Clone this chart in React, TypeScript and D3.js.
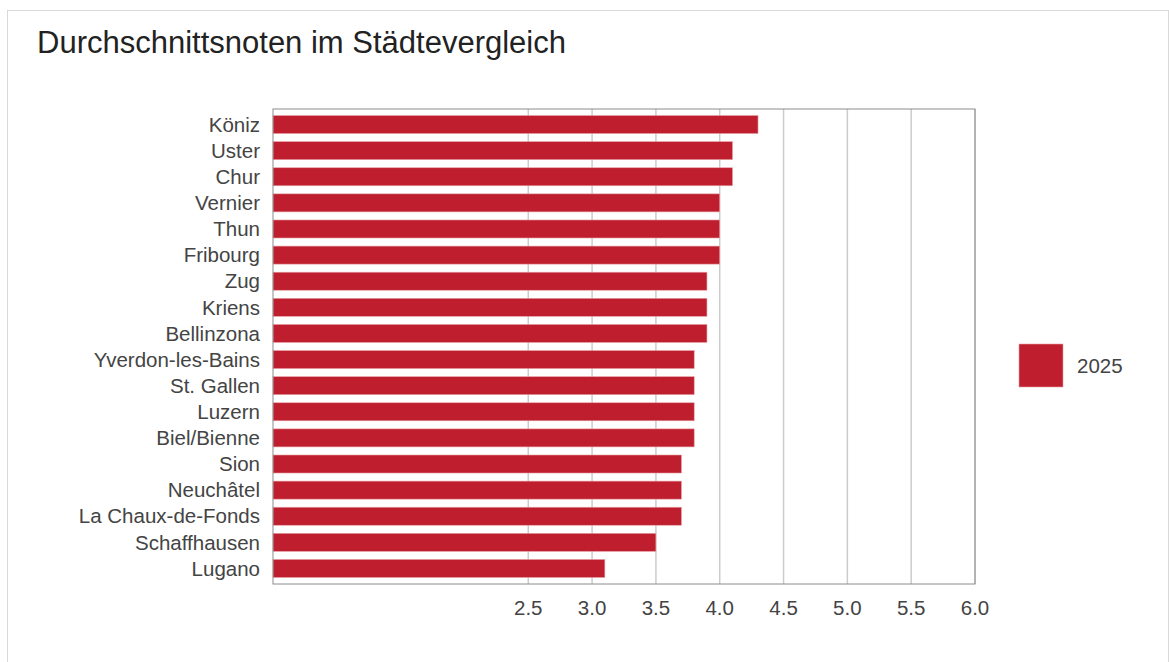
import * as d3 from 'd3'

const cities = ['Köniz', 'Uster', 'Chur', 'Vernier', 'Thun', 'Fribourg', 'Zug', 'Kriens', 'Bellinzona',
    'Yverdon-les-Bains', 'St. Gallen', 'Luzern', 'Biel/Bienne', 'Sion', 'Neuchâtel', 'La Chaux-de-Fonds',
    'Schaffhausen', 'Lugano']
const grades2025 = [4.3, 4.1, 4.1, 4.0, 4.0, 4.0, 3.9, 3.9, 3.9, 3.8, 3.8, 3.8, 3.8, 3.7, 3.7, 3.7, 3.5, 3.1]
const xTicks = [2.5, 3.0, 3.5, 4.0, 4.5, 5.0, 5.5, 6.0]
const xDomain = [0.5, 6]
const seriesName = '2025'

const W = 1169
const H = 662
const plot = { left: 273, right: 975, top: 109, bottom: 584 }
const red = '#be1e2d'
const font = '"Liberation Sans", Arial, sans-serif'

export default function App() {
    const x = d3.scaleLinear().domain(xDomain).range([plot.left, plot.right])
    const y = d3.scaleBand().domain(cities).range([plot.top, plot.bottom]).paddingInner(0.31).paddingOuter(0.25)

    return (
        <svg width={W} height={H} style={{ position: 'absolute', left: 0, top: 0, fontFamily: font }}>
            <rect x={7.5} y={10.5} width={W - 8} height={H} fill='#fff' stroke='#d9d9d9' />
            <text x={37} y={53} fontSize={31} fill='#222'>Durchschnittsnoten im Städtevergleich</text>

            {/* gridlines */}
            {xTicks.map(t => (
                <line key={t} x1={x(t)} x2={x(t)} y1={plot.top} y2={plot.bottom} stroke='#cccccc' strokeWidth={1.5} />
            ))}

            {/* bars */}
            {cities.map((c, i) => (
                <rect key={c} x={x(xDomain[0])} y={y(c)} width={x(grades2025[i]) - x(xDomain[0])}
                    height={y.bandwidth()} fill={red} stroke='#e6a0a6' strokeWidth={0.6} />
            ))}

            <rect x={plot.left} y={plot.top} width={plot.right - plot.left} height={plot.bottom - plot.top}
                fill='none' stroke='#8c8c8c' strokeWidth={1} />

            {/* category labels */}
            {cities.map(c => (
                <text key={c} x={plot.left - 13} y={y(c)! + y.bandwidth() / 2} dy='0.35em' textAnchor='end'
                    fontSize={20.5} fill='#444'>{c}</text>
            ))}

            {/* x tick labels */}
            {xTicks.map(t => (
                <text key={t} x={x(t)} y={615} textAnchor='middle' fontSize={20.5} fill='#444'>{d3.format('.1f')(t)}</text>
            ))}

            {/* legend */}
            <rect x={1019} y={344} width={44} height={43} fill={red} stroke='#e6a0a6' strokeWidth={0.6} />
            <text x={1077} y={366} dy='0.35em' fontSize={20.5} fill='#444'>{seriesName}</text>
        </svg>
    )
}
